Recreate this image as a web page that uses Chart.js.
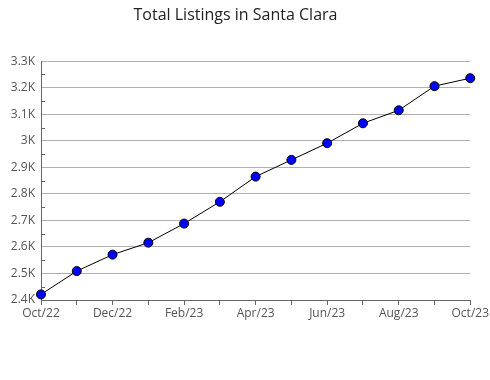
<!DOCTYPE html>
<html>
<head>
<meta charset="utf-8">
<script src="https://cdn.jsdelivr.net/npm/chart.js@4"></script>
<style>
  html, body { margin: 0; padding: 0; background: #fff; }
  #wrap { width: 490px; height: 380px; }
</style>
</head>
<body>
<div id="wrap"><canvas id="myChart" width="490" height="380"></canvas></div>
<script>
const months = ["Oct/22", "Nov/22", "Dec/22", "Jan/23", "Feb/23", "Mar/23", "Apr/23",
                "May/23", "Jun/23", "Jul/23", "Aug/23", "Sep/23", "Oct/23"];
const listings = [2421, 2509, 2571, 2616, 2688, 2770, 2865, 2928, 2991, 3066, 3115, 3206, 3236];
const yMin = 2400;
const yMax = 3300;

// small inward ticks halfway between the y gridlines
const minorTicks = {
    id: "minorTicks",
    afterDraw(chart) {
        const y = chart.scales.y;
        const ctx = chart.ctx;
        ctx.save();
        ctx.strokeStyle = "#666";
        ctx.lineWidth = 1;
        for (let v = yMin + 50; v < yMax; v += 100) {
            const py = Math.round(y.getPixelForValue(v)) + 0.5;
            ctx.beginPath();
            ctx.moveTo(y.right, py);
            ctx.lineTo(y.right + 4, py);
            ctx.stroke();
        }
        ctx.restore();
    }
};

let chart;

function initChart() {
    const ctx = document.getElementById("myChart").getContext("2d");
    chart = new Chart(ctx, {
        type: "line",
        data: {
            labels: months,
            datasets: [{
                label: "Total Listings",
                data: listings,
                borderColor: "#000",
                borderWidth: 1,
                backgroundColor: "#0000ff",
                pointBackgroundColor: "#0000ff",
                pointBorderColor: "#000",
                pointBorderWidth: 1,
                pointRadius: 4.5,
                tension: 0
            }]
        },
        options: {
            responsive: false,
            animation: false,
            layout: { padding: { left: 0, right: 19, top: 0, bottom: 0 } },
            plugins: {
                legend: { display: false },
                tooltip: { enabled: false },
                title: {
                    display: true,
                    text: "Total Listings in Santa Clara",
                    color: "#222",
                    font: { family: "Open Sans", size: 16, weight: "normal" },
                    padding: { top: 6, bottom: 36 }
                }
            },
            scales: {
                x: {
                    offset: false,
                    afterFit(scale) { scale.height = 80; },
                    border: { color: "#666", width: 1 },
                    grid: { drawOnChartArea: false, tickLength: 5, color: "#666" },
                    ticks: {
                        autoSkip: false,
                        maxRotation: 0,
                        padding: 1,
                        color: "#555",
                        font: { family: "Open Sans", size: 12 },
                        callback: (v, i) => i % 2 === 0 ? months[i] : ""
                    }
                },
                y: {
                    min: yMin,
                    max: yMax,
                    afterFit(scale) { scale.width = 41; },
                    border: { color: "#666", width: 1 },
                    grid: { color: "#b0b0b0", tickLength: 0 },
                    ticks: {
                        stepSize: 100,
                        padding: 6,
                        color: "#555",
                        font: { family: "Open Sans", size: 12 },
                        callback: v => (v / 1000) + "K"
                    }
                }
            }
        },
        plugins: [minorTicks]
    });
}

document.addEventListener("DOMContentLoaded", function() {
    initChart();
});
</script>
</body>
</html>
